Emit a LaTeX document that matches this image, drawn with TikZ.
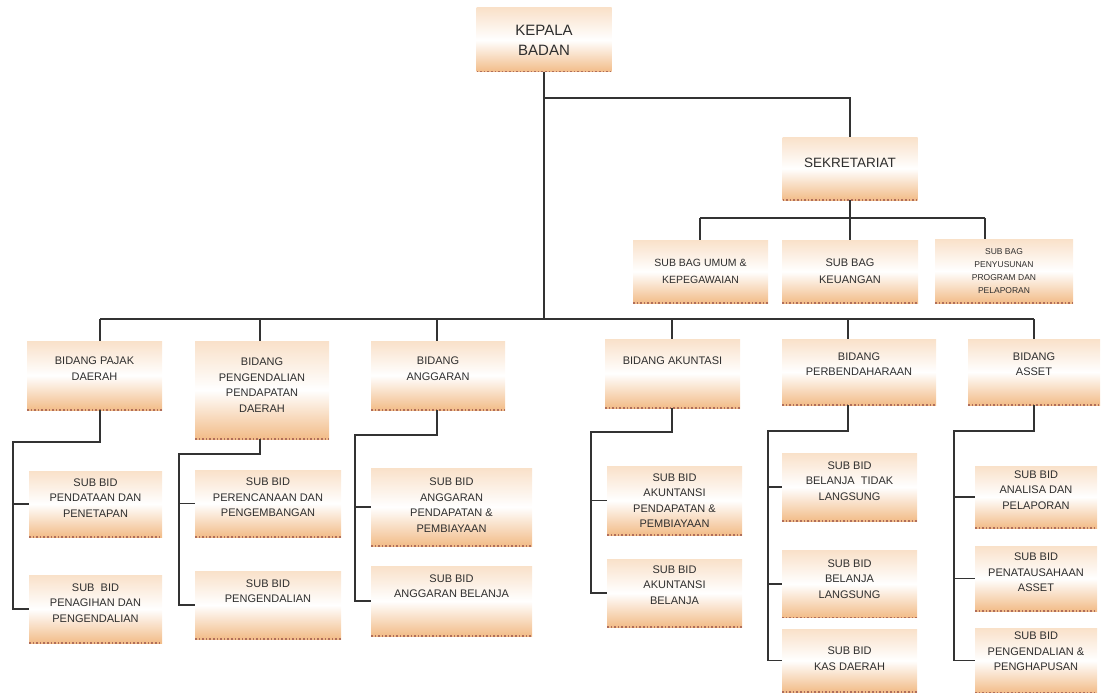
\documentclass[tikz,border=0pt]{standalone}
\usepackage{fontspec}
\setmainfont{Liberation Sans}
\usepackage{tikz}

\definecolor{peach}{RGB}{242,188,136}
\definecolor{edgebrown}{RGB}{176,110,90}

\begin{document}
\begin{tikzpicture}[x=1pt, y=-1pt,
  box/.style={rectangle, inner sep=2pt, align=center, text=black!82,
    top color=peach!45, bottom color=peach, middle color=white,
    font=\fontsize{11}{15.5}\selectfont,
    path picture={\draw [edgebrown, line width=1.6pt, dotted]
      (path picture bounding box.south west) -- (path picture bounding box.south east);}},
  boxsize/.style 2 args={minimum width=#1pt, minimum height=#2pt},
  lift/.style={text depth=#1pt},
  link/.style={draw=black!80, line width=1.3pt}]
  \useasboundingbox (0,0) rectangle (1104,693);

  % Nodes
  \node [box, boxsize={135}{64}, font=\fontsize{15}{20}\selectfont] (kepala) at (544,40) {KEPALA\\BADAN};
  \node [box, boxsize={135}{63}, lift=12, font=\fontsize{13.5}{16}\selectfont] (sekretariat) at (850,168.5) {SEKRETARIAT};

  \node [box, boxsize={135}{63}, font=\fontsize{10.5}{17}\selectfont] (subbag1) at (700.5,271.5) {SUB BAG UMUM \&\\KEPEGAWAIAN};
  \node [box, boxsize={136}{63}, font=\fontsize{11}{17}\selectfont] (subbag2) at (850,271.5) {SUB BAG\\KEUANGAN};
  \node [box, boxsize={138}{64}, font=\fontsize{8.5}{13}\selectfont] (subbag3) at (1004,271) {SUB BAG\\PENYUSUNAN\\PROGRAM DAN\\PELAPORAN};

  \node [box, boxsize={135}{69}, lift=14] (bidang1) at (94.5,375.5) {BIDANG PAJAK\\DAERAH};
  \node [box, boxsize={134}{98}, lift=10] (bidang2) at (262,390) {BIDANG\\PENGENDALIAN\\PENDAPATAN\\DAERAH};
  \node [box, boxsize={134}{69}, lift=14] (bidang3) at (438,375.5) {BIDANG\\ANGGARAN};
  \node [box, boxsize={135}{69}, lift=26] (bidang4) at (672.5,373.5) {BIDANG AKUNTASI};
  \node [box, boxsize={154}{66}, lift=16] (bidang5) at (859,372) {BIDANG\\PERBENDAHARAAN};
  \node [box, boxsize={132}{66}, lift=16] (bidang6) at (1034,372) {BIDANG\\ASSET};

  \node [box, boxsize={133}{66}, lift=12] (subbid11) at (95.5,504) {SUB BID\\PENDATAAN DAN\\PENETAPAN};
  \node [box, boxsize={133}{68}, lift=12] (subbid12) at (95.5,609) {SUB \ BID\\PENAGIHAN DAN\\PENGENDALIAN};

  \node [box, boxsize={146}{67}, lift=12] (subbid21) at (268,503.5) {SUB BID\\PERENCANAAN DAN\\PENGEMBANGAN};
  \node [box, boxsize={146}{68}, lift=28] (subbid22) at (268,605) {SUB BID\\PENGENDALIAN};

  \node [box, boxsize={161}{78}, lift=4] (subbid31) at (451.5,507) {SUB BID\\ANGGARAN\\PENDAPATAN \&\\PEMBIAYAAN};
  \node [box, boxsize={161}{70}, lift=30] (subbid32) at (451.5,601) {SUB BID\\ANGGARAN BELANJA};

  \node [box, boxsize={135}{69}] (subbid41) at (674.5,500.5) {SUB BID\\AKUNTANSI\\PENDAPATAN \&\\PEMBIAYAAN};
  \node [box, boxsize={135}{68}, lift=16] (subbid42) at (674.5,593) {SUB BID\\AKUNTANSI\\BELANJA};

  \node [box, boxsize={135}{68}, lift=12] (subbid51) at (849.5,487) {SUB BID\\BELANJA \ TIDAK\\LANGSUNG};
  \node [box, boxsize={135}{67}, lift=10] (subbid52) at (849.5,584) {SUB BID\\BELANJA\\LANGSUNG};
  \node [box, boxsize={135}{63}, lift=4] (subbid53) at (849.5,660.5) {SUB BID\\KAS DAERAH};

  \node [box, boxsize={122}{62}, lift=14] (subbid61) at (1036,497) {SUB BID\\ANALISA DAN\\PELAPORAN};
  \node [box, boxsize={122}{65}, lift=12] (subbid62) at (1036,578.5) {SUB BID\\PENATAUSAHAAN\\ASSET};
  \node [box, boxsize={122}{65}, lift=18] (subbid63) at (1036,660.5) {SUB BID\\PENGENDALIAN \&\\PENGHAPUSAN};

  % Junctions
  \coordinate (jsek) at (544,98);
  \coordinate (sb1) at (700,218);
  \coordinate (sb3) at (985,218);
  \coordinate (bus1) at (100,319);
  \coordinate (bus2) at (260,319);
  \coordinate (bus3) at (437,319);
  \coordinate (bus4) at (672,319);
  \coordinate (bus5) at (848,319);
  \coordinate (bus6) at (1034,319);
  \coordinate (k1) at (13,442);
  \coordinate (k2) at (179,454);
  \coordinate (k3) at (355,435);
  \coordinate (k4) at (591,432);
  \coordinate (k5) at (768,431);
  \coordinate (k6) at (954,431);

  % Lines
  \draw [link] (kepala.south) -- (kepala.south |- bus1);
  \draw [link] (jsek) -| (sekretariat.north);
  \draw [link] (sekretariat.south) -- (subbag2.north);
  \draw [link] (sb1) -- (sb3);
  \draw [link] (sb1) -- (sb1 |- subbag1.north);
  \draw [link] (sb3) -- (sb3 |- subbag3.north);
  \draw [link] (bus1) -- (bus6);
  \foreach \c in {1,...,6}
    \draw [link] (bus\c) -- (bus\c |- bidang\c.north);
  \foreach \c/\n in {1/2, 2/2, 3/2, 4/2, 5/3, 6/3} {
    \draw [link] (bus\c |- bidang\c.south) |- (k\c) |- (subbid\c\n.west);
    \foreach \s in {1,...,\n}
      \draw [link] (k\c) |- (subbid\c\s.west);
  }
\end{tikzpicture}
\end{document}
